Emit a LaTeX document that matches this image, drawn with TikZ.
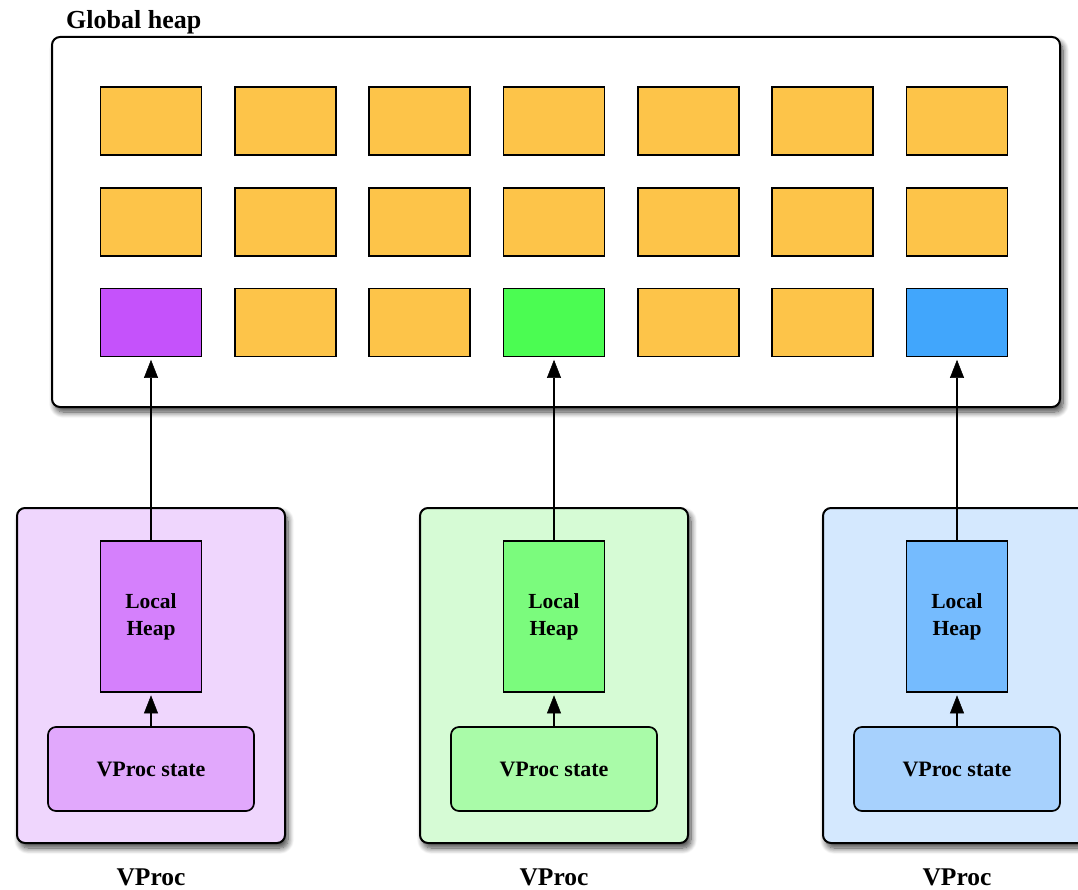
\documentclass[tikz,border=0pt]{standalone}
\usepackage{fontspec}
\setmainfont{Liberation Serif}
\usetikzlibrary{arrows.meta,shadows.blur}
\definecolor{blk}{HTML}{FDC449}
\definecolor{pA}{HTML}{C552FB}
\definecolor{gA}{HTML}{4BFC52}
\definecolor{bA}{HTML}{41A6FC}
\definecolor{pBg}{HTML}{EFD6FD}
\definecolor{pLh}{HTML}{D580FC}
\definecolor{pSt}{HTML}{E1A8FC}
\definecolor{gBg}{HTML}{D6FBD5}
\definecolor{gLh}{HTML}{7BFB7D}
\definecolor{gSt}{HTML}{A9FBA8}
\definecolor{bBg}{HTML}{D4E8FE}
\definecolor{bLh}{HTML}{75BBFE}
\definecolor{bSt}{HTML}{A7D1FD}
\tikzset{
  shad/.style={blur shadow={shadow xshift=3pt,shadow yshift=-5pt,shadow blur steps=10,shadow blur radius=6pt,shadow opacity=75}},
  frame/.style={draw=black,line width=2pt,rounded corners=8pt,shad},
  block/.style={draw=black,line width=1.7pt,minimum width=101pt,minimum height=68pt,inner sep=0pt},
  lheap/.style={draw=black,line width=1.7pt,minimum width=101pt,minimum height=151pt,align=center,inner sep=0pt,font=\fontsize{21.5}{27}\selectfont\bfseries},
  vstate/.style={draw=black,line width=1.7pt,rounded corners=8pt,minimum width=206pt,minimum height=84pt,inner sep=0pt,font=\fontsize{22}{25}\selectfont\bfseries},
  title/.style={font=\fontsize{26}{28}\selectfont\bfseries,inner sep=0pt},
  conn/.style={draw=black,line width=2pt,shorten >=2.5pt,-{Triangle[length=18pt,width=14pt,color=black,fill=black,line width=0.5pt]}}
}
\begin{document}
\begin{tikzpicture}[x=1pt,y=-1pt]
\useasboundingbox (0,0) rectangle (1078,890);
\clip (0,0) rectangle (1078,890);
% global heap
\node[title,anchor=base west] (gt) at (66,29) {Global heap};
\draw[frame,fill=white] (52,37) rectangle (1060,407);
\foreach \c in {1,...,7}{
  \foreach \r/\ry in {1/121,2/222,3/322.5}{
    \node[block,fill=blk] (g\r-\c) at ({151+(\c-1)*134.333},\ry) {};
  }
}
\node[block,fill=pA] at (g3-1) {};
\node[block,fill=gA] at (g3-4) {};
\node[block,fill=bA] at (g3-7) {};
% VProcs
\foreach \i/\cx/\bg/\lh/\st in {1/151/pBg/pLh/pSt, 2/554/gBg/gLh/gSt, 3/957/bBg/bLh/bSt}{
  \draw[frame,fill=\bg] ({\cx-134},508) rectangle ({\cx+134},843);
  \node[lheap,fill=\lh] (lh\i) at (\cx,616.5) {\raisebox{-2pt}{\parbox{90pt}{\centering Local\\Heap}}};
  \node[vstate,fill=\st] (vs\i) at (\cx,769) {VProc state};
  \node[title,font=\fontsize{25.5}{28}\selectfont\bfseries,anchor=base] (vt\i) at (\cx,885) {VProc};
  \draw[conn] (vs\i.north) -- (lh\i.south);
}
\draw[conn] (lh1.north) -- (lh1.north |- g3-1.south);
\draw[conn] (lh2.north) -- (lh2.north |- g3-4.south);
\draw[conn] (lh3.north) -- (lh3.north |- g3-7.south);
\end{tikzpicture}
\end{document}
